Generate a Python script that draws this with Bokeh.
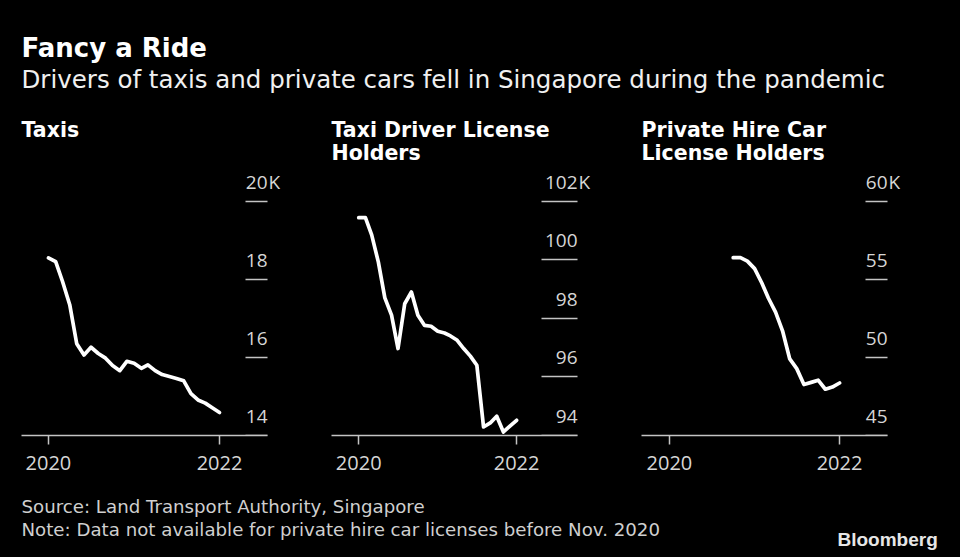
import pandas as pd
from bokeh.plotting import figure
from bokeh.layouts import column, row
from bokeh.models import (Range1d, FixedTicker, DatetimeTickFormatter, CustomJSTickFormatter,
                          LabelSet, ColumnDataSource)
from bokeh.core.properties import value
from bokeh.embed import file_html
from bokeh.resources import INLINE

# ---------------- data ----------------
title = "Fancy a Ride"
subtitle = "Drivers of taxis and private cars fell in Singapore during the pandemic"
source_note = "Source: Land Transport Authority, Singapore"
data_note = "Note: Data not available for private hire car licenses before Nov. 2020"
brand = "Bloomberg"

months_all = pd.date_range("2020-01-01", "2022-01-01", freq="MS")   # Jan 2020 .. Jan 2022
months_phc = pd.date_range("2020-10-01", "2022-01-01", freq="MS")   # as plotted

# thousands
taxis = [18.55, 18.45, 17.95, 17.35, 16.35, 16.06, 16.26, 16.10, 15.98, 15.79,
         15.66, 15.90, 15.85, 15.72, 15.81, 15.66, 15.56, 15.51, 15.46, 15.40,
         15.07, 14.91, 14.83, 14.71, 14.59]
taxi_driver_licenses = [101.44, 101.44, 100.85, 99.92, 98.70, 98.11, 96.97, 98.50, 98.90, 98.11,
                        97.76, 97.73, 97.56, 97.50, 97.40, 97.25, 96.97, 96.71, 96.40, 94.29,
                        94.43, 94.66, 94.12, 94.32, 94.52]
phc_licenses = [56.38, 56.38, 56.16, 55.68, 54.76, 53.80, 52.90, 51.70, 49.90, 49.28,
                48.26, 48.40, 48.54, 47.96, 48.10, 48.36]

panel_titles = [["Taxis"], ["Taxi Driver License", "Holders"], ["Private Hire Car", "License Holders"]]
y_ticks = [[14, 16, 18, 20], [94, 96, 98, 100, 102], [45, 50, 55, 60]]
y_tick_labels = [["14", "16", "18", "20"], ["94", "96", "98", "100", "102"], ["45", "50", "55", "60"]]
y_unit = "K"
x_ticks = ["2020-01-01", "2022-01-01"]

# ---------------- style / layout ----------------
BG = "#000000"
TXT = "#d6d6d6"
AX = "#c4c4c4"
HEAD_H, PANEL_H, FOOT_H = 165, 325, 67
FR_LEFT, FR_TOP, FR_BOTTOM = 21, 0, 55
AXIS_W, LABEL_EXTRA = 246, 23          # axis line width, extra room for the unit suffix
FR_W = AXIS_W + LABEL_EXTRA

panel_cfg = [
    dict(x=months_all, y=taxis, x0="2019-09-08", x1="2022-07-25", yr=(14, 20.914), tick_len=22, width=310),
    dict(x=months_all, y=taxi_driver_licenses, x0="2019-08-28", x1="2022-10-10", yr=(94, 103.22), tick_len=36, width=310),
    dict(x=months_phc, y=phc_licenses, x0="2019-09-03", x1="2022-07-26", yr=(45, 62.28), tick_len=22, width=340),
]


def ms(ts):
    return pd.Timestamp(ts).value // 10**6


def make_panel(i, cfg):
    width = cfg["width"]
    x0, x1 = ms(cfg["x0"]), ms(cfg["x1"])
    x_end = x1 + (x1 - x0) * LABEL_EXTRA / AXIS_W
    p = figure(width=width, height=PANEL_H, x_axis_type="datetime", y_axis_location="right",
               x_range=Range1d(x0, x_end), y_range=Range1d(*cfg["yr"]),
               output_backend="svg", toolbar_location=None,
               min_border_left=FR_LEFT, min_border_right=width - FR_LEFT - FR_W,
               min_border_top=FR_TOP, min_border_bottom=FR_BOTTOM,
               background_fill_color=BG, border_fill_color=BG, outline_line_color=None)
    p.xgrid.visible = False
    p.ygrid.visible = False

    xa = p.xaxis[0]
    xa.bounds = (x0, x1)
    xa.ticker = FixedTicker(ticks=[ms(t) for t in x_ticks])
    xa.formatter = DatetimeTickFormatter(years="%Y", months="%Y", days="%Y")
    xa.axis_line_color = AX
    xa.axis_line_width = 1.5
    xa.major_tick_line_color = AX
    xa.major_tick_line_width = 1.5
    xa.major_tick_out = 9
    xa.major_tick_in = 0
    xa.minor_tick_line_color = None
    xa.major_label_text_font = "Open Sans"
    xa.major_label_text_font_size = "20px"
    xa.major_label_text_color = TXT
    xa.major_label_standoff = 11

    ya = p.yaxis[0]
    ya.fixed_location = x1
    ya.ticker = FixedTicker(ticks=y_ticks[i])
    ya.formatter = CustomJSTickFormatter(code="return ''")
    ya.axis_line_color = None
    ya.major_tick_line_color = AX
    ya.major_tick_line_width = 1.5
    ya.major_tick_in = cfg["tick_len"]
    ya.major_tick_out = 0
    ya.minor_tick_line_color = None
    ya.major_label_standoff = 0

    p.line(x=cfg["x"], y=cfg["y"], line_color="white", line_width=3.7,
           line_join="round", line_cap="round")

    lab_style = dict(text_baseline="alphabetic", y_offset=12.5, text_font=value("Open Sans"),
                     text_font_size="19px", text_color=TXT)
    src = ColumnDataSource(dict(x=[x1] * len(y_ticks[i]), y=y_ticks[i], text=y_tick_labels[i]))
    p.add_layout(LabelSet(x="x", y="y", text="text", source=src, text_align="right", **lab_style))
    unit_src = ColumnDataSource(dict(x=[x1], y=[y_ticks[i][-1]], text=[y_unit]))
    p.add_layout(LabelSet(x="x", y="y", text="text", source=unit_src, text_align="left",
                          x_offset=1, **lab_style))
    return p


def text_fig(h):
    p = figure(width=960, height=h, x_range=Range1d(0, 960), y_range=Range1d(h, 0),
               x_axis_location=None, y_axis_location=None, output_backend="svg",
               toolbar_location=None, min_border=0, background_fill_color=BG,
               border_fill_color=BG, outline_line_color=None)
    p.xgrid.visible = False
    p.ygrid.visible = False
    return p


header = text_fig(HEAD_H)
header.text(x=[21], y=[47], text=[title], text_font=value("DejaVu Sans"), text_font_style="bold",
            text_font_size="26px", text_color="white", text_baseline="alphabetic")
header.text(x=[21], y=[79], text=[subtitle], text_font=value("DejaVu Sans"),
            text_font_size="24.5px", text_color="#f0f0f0", text_baseline="alphabetic")
panel_x = [21, 331, 641]
for k, lines in enumerate(panel_titles):
    header.text(x=[panel_x[k]] * len(lines), y=[129, 152.5][:len(lines)], text=lines,
                text_font=value("DejaVu Sans"), text_font_style="bold",
                text_font_size="20.5px", text_color="white", text_baseline="alphabetic")

footer = text_fig(FOOT_H)
footer.text(x=[21, 21], y=[16, 39], text=[source_note, data_note], text_font=value("DejaVu Sans"),
            text_font_size="18.2px", text_color="#cfcfcf", text_baseline="alphabetic")
footer.text(x=[837], y=[49], text=[brand], text_font=value("Liberation Sans"), text_font_style="bold",
            text_font_size="19px", text_color="#e6e6e6", text_baseline="alphabetic")

panels = [make_panel(i, c) for i, c in enumerate(panel_cfg)]
layout = column(header, row(*panels, styles={"background-color": BG}), footer,
                styles={"background-color": BG})

html = file_html(layout, INLINE)
html = html.replace("<head>", "<head>\n<style>html, body {background: #000000; margin: 0;}</style>", 1)
open("out.html", "w").write(html)
